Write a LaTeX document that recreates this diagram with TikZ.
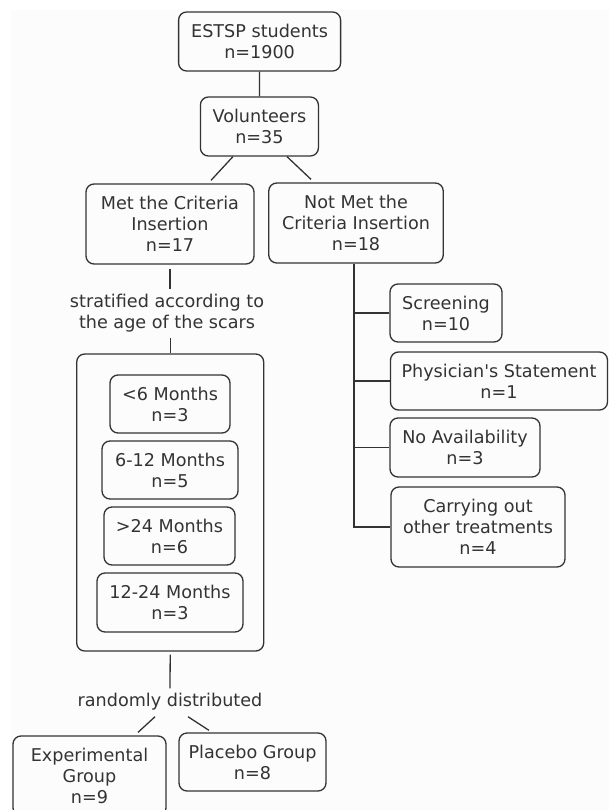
\documentclass[tikz,border=0pt]{standalone}
\usepackage{fontspec}
\setmainfont{DejaVu Sans}
\usetikzlibrary{calc}
\definecolor{ink}{HTML}{333333}
\definecolor{bg}{HTML}{FCFCFC}
\begin{document}
\begin{tikzpicture}[x=1pt,y=-1pt,
  box/.style={draw=ink, line width=1.3pt, rounded corners=8pt, align=center, text=ink,
    inner sep=0pt, font=\fontsize{17.6}{21}\selectfont},
  lbl/.style={align=center, text=ink, inner sep=0pt, font=\fontsize{17.6}{21}\selectfont},
  conn/.style={draw=ink, line width=1.3pt}]
\useasboundingbox (0,0) rectangle (609,810);
\fill[white] (0,0) rectangle (609,810);
\fill[bg] (11,10) rectangle (609,810);

\node[box, minimum width=162pt, minimum height=59pt] (est) at (259.6,41.5) {ESTSP students\\n=1900};
\node[box, minimum width=118pt, minimum height=59pt] (vol) at (259.4,126.5) {Volunteers\\n=35};
\node[box, minimum width=168pt, minimum height=80pt] (met) at (170,224) {Met the Criteria\\Insertion\\n=17};
\node[box, minimum width=174.5pt, minimum height=80pt] (notmet) at (356,223) {Not Met the\\Criteria Insertion\\n=18};
\node[lbl] (strat) at (167,313) {stratified according to\\the age of the scars};
\node[draw=ink, line width=1.3pt, rounded corners=8pt, minimum width=187pt, minimum height=297pt, inner sep=0pt] (big) at (170.2,502.5) {};
\node[box, minimum width=120pt, minimum height=58pt] (m6) at (170,404) {<6 Months\\n=3};
\node[box, minimum width=136pt, minimum height=58pt] (m612) at (170,470) {6-12 Months\\n=5};
\node[box, minimum width=131pt, minimum height=58pt] (m24) at (169.5,536) {>24 Months\\n=6};
\node[box, minimum width=146pt, minimum height=59pt] (m1224) at (170,602.5) {12-24 Months\\n=3};
\node[lbl] (rand) at (170,702) {randomly distributed};
\node[box, minimum width=153pt, minimum height=80pt] (exp) at (89.5,776) {Experimental\\Group\\n=9};
\node[box, minimum width=147pt, minimum height=58pt] (plac) at (252.5,762) {Placebo Group\\n=8};

\node[box, minimum width=112pt, minimum height=58pt] (scr) at (446,313) {Screening\\n=10};
\node[box, minimum width=217pt, minimum height=58pt] (phy) at (499,381) {Physician\textquotesingle s Statement\\n=1};
\node[box, minimum width=150pt, minimum height=59pt] (noav) at (465,447.5) {No Availability\\n=3};
\node[box, minimum width=174pt, minimum height=80pt] (carry) at (478,527) {Carrying out\\other treatments\\n=4};

% connectors
\draw[conn] (est.south) -- (vol.north);
\draw[conn] ($(vol.south)+(-26.5,0)$) -- ($(met.north)+(41,-3)$);
\draw[conn] ($(vol.south)+(27.6,0)$) -- ($(notmet.north)+(-45,-3)$);
\draw[conn] ($(met.south)+(0,4)$) -- ($(met.south)+(0,24)$);
\draw[conn] ($(big.north)+(0,-15)$) -- (big.north);
\draw[conn] ($(big.south)+(0,3)$) -- ($(rand.north)+(0,-5)$);
\draw[conn] ($(rand.south)+(-15,6)$) -- ($(exp.north)+(48.5,-3)$);
\draw[conn] ($(rand.south)+(18,6)$) -- ($(plac.north)+(-43.5,-2)$);

\coordinate (trunk) at ($(notmet.south)+(-2,0)$);
\coordinate (trunkend) at (trunk |- carry.west);
\draw[conn] (trunk) -- (trunkend) -- (carry.west);
\draw[conn] (trunk |- scr.west) -- (scr.west);
\draw[conn] (trunk |- phy.west) -- (phy.west);
\draw[conn] (trunk |- noav.west) -- (noav.west);
\end{tikzpicture}
\end{document}
